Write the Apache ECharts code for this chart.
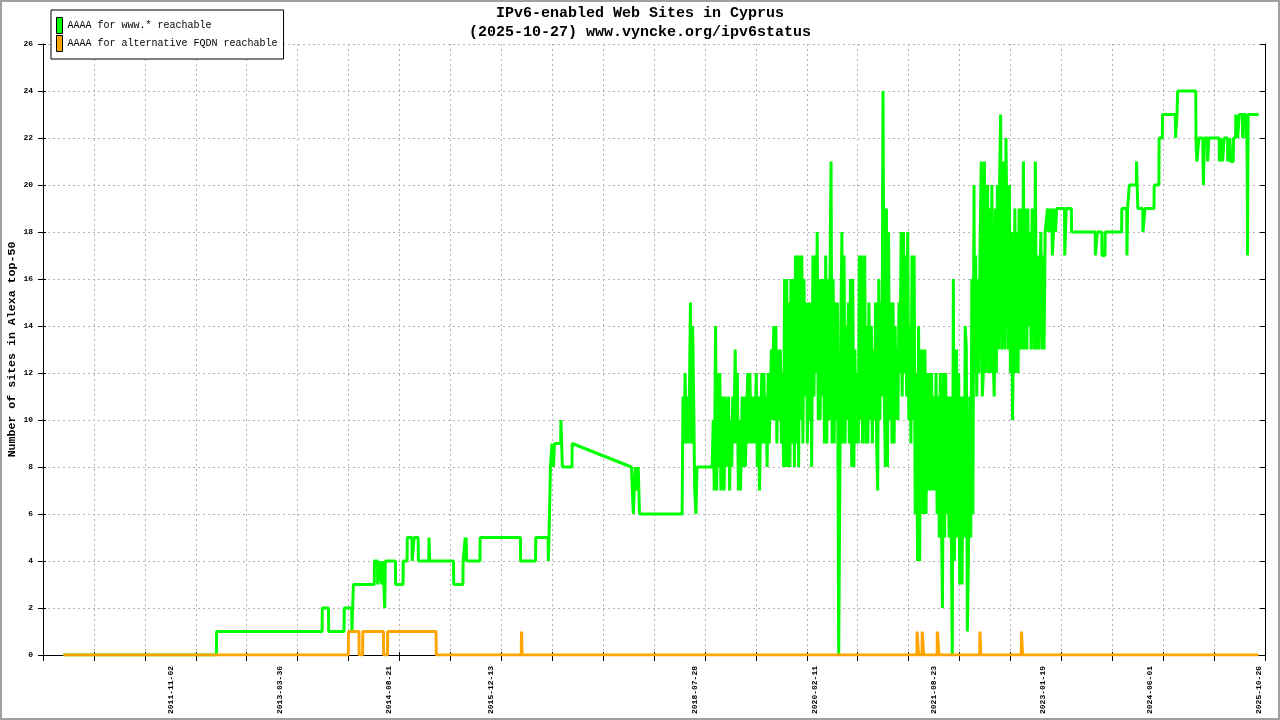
<!DOCTYPE html>
<html>
<head>
<meta charset="utf-8">
<script src="https://cdn.jsdelivr.net/npm/echarts@6/dist/echarts.min.js"></script>
<style>
html,body{margin:0;padding:0;background:#fff;}
#chart{width:1280px;height:720px;}
</style>
</head>
<body>
<div id="chart"></div>
<script>
// ---------- DATA ----------
const titleLines = ['IPv6-enabled Web Sites in Cyprus', '(2025-10-27) www.vyncke.org/ipv6status'];
const seriesNames = ['AAAA for www.* reachable', 'AAAA for alternative FQDN reachable'];
const yAxisName = 'Number of sites in Alexa top-50';
const xLabelDates = ['2011-11-02','2013-03-30','2014-08-21','2015-12-13','2018-07-28',
                     '2020-02-11','2021-08-23','2023-01-19','2024-06-01','2025-10-26'];
const axisStartDate = '2010-03-13';
const axisSpanDays = 5736;
const tickStepDays = 239;
const yMax = 26, yStep = 2;

// green: step segments (date, value)
const greenEarly = [
['2010-06-17',0],['2012-06-04',0],['2012-06-05',1],
['2013-10-13',1],['2013-10-14',2],['2013-11-12',2],['2013-11-13',1],
['2014-01-24',1],['2014-01-25',2],['2014-03-01',2],['2014-03-02',1],['2014-03-08',1],['2014-03-09',3],
['2014-06-15',3],['2014-06-16',4],['2014-06-30',4],['2014-07-01',3],['2014-07-09',3],['2014-07-10',4],
['2014-07-18',4],['2014-07-19',3],['2014-07-25',3],['2014-07-26',4],['2014-08-02',4],['2014-08-03',2],
['2014-08-05',2],['2014-08-06',4],
['2014-09-22',4],['2014-09-23',3],['2014-10-28',3],['2014-10-29',4],['2014-11-16',4],['2014-11-17',5],
['2014-12-09',5],['2014-12-10',4],['2014-12-18',4],['2014-12-19',5],['2015-01-07',5],['2015-01-08',4],
['2015-02-26',4],['2015-02-27',5],['2015-03-01',5],['2015-03-02',4],
['2015-06-22',4],['2015-06-23',3],['2015-08-05',3],['2015-08-06',4],
['2015-08-15',4],['2015-08-16',5],['2015-08-18',5],['2015-08-19',4],['2015-08-20',5],['2015-08-22',5],['2015-08-23',4],
['2015-10-24',4],['2015-10-25',5],
['2016-05-01',5],['2016-05-02',4],['2016-07-11',4],['2016-07-12',5],
['2016-09-08',5],['2016-09-09',4],['2016-09-11',4],['2016-09-12',5],['2016-09-17',5],['2016-09-19',8],
['2016-09-25',8],['2016-09-26',9],['2016-10-02',9],['2016-10-03',8],['2016-10-07',8],['2016-10-08',9],
['2016-11-06',9],['2016-11-07',10],['2016-11-13',10],['2016-11-14',8],['2016-12-29',8],['2016-12-30',9],
['2017-10-04',8],['2017-10-12',8],['2017-10-13',6],['2017-10-21',6],['2017-10-22',8],['2017-10-27',8],
['2017-10-28',7],['2017-11-04',7],['2017-11-05',8],['2017-11-10',8],['2017-11-11',6],
['2018-05-30',6]
];

// green: noisy period, values read on days 03,08,13,18,23,28 of each month
const noisyDays = ['03','08','13','18','23','28'];
const greenNoisy = [
['2018-06',11,9,12,9,11,9],
['2018-07',11,15,9,14,11,7],
['2018-08',6,8,8,8,8,8],
['2018-09',8,8,8,8,8,8],
['2018-10',8,8,8,8,10,7],
['2018-11',14,7,12,8,12,7],
['2018-12',9,11,7,11,8,10],
['2019-01',11,7,10,8,11,9],
['2019-02',13,9,12,7,10,7],
['2019-03',7,11,8,11,8,10],
['2019-04',12,9,12,9,11,9],
['2019-05',11,9,12,8,11,7],
['2019-06',10,12,9,12,9,11],
['2019-07',8,12,9,11,13,10],
['2019-08',14,10,14,9,13,10],
['2019-09',13,9,12,8,16,8],
['2019-10',16,8,15,8,16,9],
['2019-11',16,8,17,9,17,8],
['2019-12',17,10,17,9,16,11],
['2020-01',15,9,15,10,15,8],
['2020-02',17,11,17,12,18,10],
['2020-03',16,10,16,11,16,9],
['2020-04',17,9,16,10,16,21],
['2020-05',9,16,9,15,10,15],
['2020-06',0,0,14,18,9,17],
['2020-07',9,14,10,15,9,16],
['2020-08',8,16,8,13,9,12],
['2020-09',9,17,10,17,9,15],
['2020-10',17,9,14,9,15,10],
['2020-11',14,9,13,10,15,9],
['2020-12',7,16,10,15,11,24],
['2021-01',11,8,19,8,18,10],
['2021-02',15,9,15,9,14,10],
['2021-03',13,10,15,12,18,11],
['2021-04',18,12,17,11,18,10],
['2021-05',14,9,17,10,17,6],
['2021-06',12,4,14,4,13,6],
['2021-07',13,6,13,6,12,7],
['2021-08',12,7,12,7,11,7],
['2021-09',12,6,11,5,12,6],
['2021-10',2,12,5,12,6,11],
['2021-11',5,11,6,0,16,4],
['2021-12',4,13,5,12,3,11],
['2022-01',3,11,5,14,13,1],
['2022-02',5,11,5,16,6,20],
['2022-03',12,17,11,16,12,17],
['2022-04',21,11,12,21,12,19],
['2022-05',20,12,19,12,20,13],
['2022-06',11,19,12,20,13,20],
['2022-07',23,13,16,21,13,22],
['2022-08',22,13,20,12,18,10],
['2022-09',10,19,12,18,12,19],
['2022-10',13,19,13,21,13,19],
['2022-11',13,19,14,18,13,19],
['2022-12',18,13,21,13,17,13],
['2023-01',13,18,13,17,13,18],
['2023-02',18,19,18,19,18,19],
['2023-03',17,18,19,18,19,19]
];

const greenLate = [
['2023-04-29',19],['2023-04-30',17],['2023-05-06',17],['2023-05-07',19],
['2023-05-31',19],['2023-06-01',18],
['2023-09-20',18],['2023-09-21',17],['2023-09-29',17],['2023-09-30',18],
['2023-10-21',18],['2023-10-22',17],['2023-11-05',17],['2023-11-06',18],
['2024-01-22',18],['2024-01-23',19],['2024-02-15',19],['2024-02-16',17],['2024-02-18',17],['2024-02-19',19],
['2024-02-26',19],['2024-02-27',20],
['2024-03-31',20],['2024-04-01',21],['2024-04-06',21],['2024-04-07',19],
['2024-04-30',19],['2024-05-01',18],['2024-05-10',18],['2024-05-11',19],
['2024-06-22',19],['2024-06-23',20],['2024-07-15',20],['2024-07-16',22],['2024-07-31',22],['2024-08-01',23],
['2024-09-30',23],['2024-10-01',22],['2024-10-07',22],['2024-10-08',23],['2024-10-10',23],['2024-10-11',24],
['2025-01-04',24],['2025-01-05',22],
['2025-01-08',22],['2025-01-09',21],['2025-01-18',21],['2025-01-19',22],
['2025-02-06',22],['2025-02-07',21],['2025-02-09',20],['2025-02-11',21],['2025-02-14',21],['2025-02-15',22],
['2025-02-28',22],['2025-03-01',21],['2025-03-05',21],['2025-03-06',22],
['2025-04-24',22],['2025-04-25',21],['2025-04-30',21],['2025-05-01',22],
['2025-05-09',22],['2025-05-10',21],['2025-05-16',21],['2025-05-17',22],
['2025-06-02',22],['2025-06-03',21],['2025-06-12',21],['2025-06-13',22],['2025-06-16',22],['2025-06-17',21],
['2025-06-29',21],['2025-06-30',22],
['2025-07-10',22],['2025-07-11',23],['2025-07-19',23],['2025-07-20',22],['2025-07-26',22],['2025-07-27',23],
['2025-08-11',23],['2025-08-12',22],['2025-08-14',22],['2025-08-15',23],['2025-08-27',23],['2025-08-28',22],
['2025-08-30',22],['2025-08-31',23],
['2025-09-02',23],['2025-09-03',20],['2025-09-04',17],['2025-09-05',20],['2025-09-06',20],['2025-09-07',23],
['2025-10-26',23]
];

const orangeData = [
['2010-06-17',0],['2014-02-13',0],['2014-02-14',1],
['2014-04-04',1],['2014-04-05',0],['2014-04-21',0],['2014-04-22',1],
['2014-07-28',1],['2014-07-29',0],['2014-08-16',0],['2014-08-17',1],
['2015-04-01',1],['2015-04-02',0],
['2016-05-05',0],['2016-05-06',1],['2016-05-08',1],['2016-05-09',0],
['2021-06-05',0],['2021-06-06',1],['2021-06-12',1],['2021-06-13',0],
['2021-06-29',0],['2021-06-30',1],['2021-07-06',1],['2021-07-07',0],
['2021-09-08',0],['2021-09-09',1],['2021-09-16',1],['2021-09-17',0],
['2022-03-27',0],['2022-03-28',1],['2022-03-31',1],['2022-04-01',0],
['2022-10-08',0],['2022-10-09',1],['2022-10-13',1],['2022-10-14',0],
['2025-10-26',0]
];

// ---------- BUILD ----------
const DAY = 86400000;
function utc(s){ const p = s.split('-').map(Number); return Date.UTC(p[0], p[1]-1, p[2]); }
const T0 = utc(axisStartDate);
function toDay(s){ return (utc(s) - T0) / DAY; }
function fromDay(v){ return new Date(T0 + Math.round(v) * DAY).toISOString().slice(0, 10); }

const greenPoints = [];
greenEarly.forEach(p => greenPoints.push([toDay(p[0]), p[1]]));
greenNoisy.forEach(row => row.slice(1).forEach((v, i) => greenPoints.push([toDay(row[0] + '-' + noisyDays[i]), v])));
greenLate.forEach(p => greenPoints.push([toDay(p[0]), p[1]]));
const orangePoints = orangeData.map(p => [toDay(p[0]), p[1]]);

const MONO = "'Liberation Mono', 'DejaVu Sans Mono', monospace";
const gridLine = { show: true, lineStyle: { color: '#b4b4b4', width: 1, type: [2, 3] } };

const chart = echarts.init(document.getElementById('chart'), null, { renderer: 'canvas' });
chart.setOption({
  animation: false,
  backgroundColor: '#fff',
  title: [
    { text: titleLines[0], left: 'center', top: 6, padding: 0,
      textStyle: { fontFamily: MONO, fontSize: 15, fontWeight: 'bold', color: '#000' } },
    { text: titleLines[1], left: 'center', top: 25, padding: 0,
      textStyle: { fontFamily: MONO, fontSize: 15, fontWeight: 'bold', color: '#000' } }
  ],
  legend: {
    left: 51, top: 10, orient: 'vertical',
    padding: [7, 6, 7, 5], itemGap: 1, itemWidth: 6, itemHeight: 16,
    backgroundColor: '#fff', borderColor: '#000', borderWidth: 1, borderRadius: 0,
    icon: 'rect',
    itemStyle: { borderColor: '#000', borderWidth: 1 },
    textStyle: { fontFamily: MONO, fontSize: 10, color: '#000' },
    data: seriesNames
  },
  grid: { left: 43, right: 15, top: 44, bottom: 65, outerBoundsMode: 'none', containLabel: false },
  xAxis: [
    { type: 'value', min: 0, max: axisSpanDays, interval: tickStepDays, position: 'bottom',
      axisLine: { show: true, onZero: false, lineStyle: { color: '#000', width: 1 } },
      axisTick: { show: true, inside: false, length: 6, lineStyle: { color: '#000' } },
      axisLabel: { show: true, customValues: xLabelDates.map(toDay), rotate: 90, margin: 11,
                   fontFamily: MONO, fontSize: 8, fontWeight: 'bold', color: '#000', formatter: v => fromDay(v) },
      splitLine: gridLine },
    { type: 'value', min: 0, max: axisSpanDays, interval: tickStepDays, position: 'bottom',
      axisLine: { show: false },
      axisTick: { show: true, inside: true, length: 3, lineStyle: { color: '#000' } },
      axisLabel: { show: false }, splitLine: { show: false } }
  ],
  yAxis: [
    { type: 'value', min: 0, max: yMax, interval: yStep, position: 'left',
      name: yAxisName, nameLocation: 'middle', nameGap: 25, nameMoveOverlap: false,
      nameTextStyle: { fontFamily: MONO, fontSize: 11.6, fontWeight: 'bold', color: '#000' },
      axisLine: { show: true, onZero: false, lineStyle: { color: '#000', width: 1 } },
      axisTick: { show: true, inside: false, length: 5, lineStyle: { color: '#000' } },
      axisLabel: { fontFamily: MONO, fontSize: 8, fontWeight: 'bold', color: '#000', margin: 10 },
      splitLine: gridLine },
    { type: 'value', min: 0, max: yMax, interval: yStep, position: 'left',
      axisLine: { show: false },
      axisTick: { show: true, inside: true, length: 3, lineStyle: { color: '#000' } },
      axisLabel: { show: false }, splitLine: { show: false } },
    { type: 'value', min: 0, max: yMax, interval: yStep, position: 'right',
      axisLine: { show: true, onZero: false, lineStyle: { color: '#000', width: 1 } },
      axisTick: { show: true, inside: true, length: 5, lineStyle: { color: '#000' } },
      axisLabel: { show: false }, splitLine: { show: false } }
  ],
  series: [
    { name: seriesNames[0], type: 'line', data: greenPoints, showSymbol: false, symbol: 'none',
      xAxisIndex: 0, yAxisIndex: 0,
      lineStyle: { color: '#00ff00', width: 3 }, itemStyle: { color: '#00ff00' } },
    { name: seriesNames[1], type: 'line', data: orangePoints, showSymbol: false, symbol: 'none',
      xAxisIndex: 0, yAxisIndex: 0,
      lineStyle: { color: '#ffa500', width: 3 }, itemStyle: { color: '#ffa500' } }
  ],
  graphic: [
    { type: 'rect', silent: true, z: 100,
      shape: { x: 1, y: 1, width: 1278, height: 718 },
      style: { fill: null, stroke: '#a0a0a0', lineWidth: 2 } }
  ]
});
</script>
</body>
</html>
